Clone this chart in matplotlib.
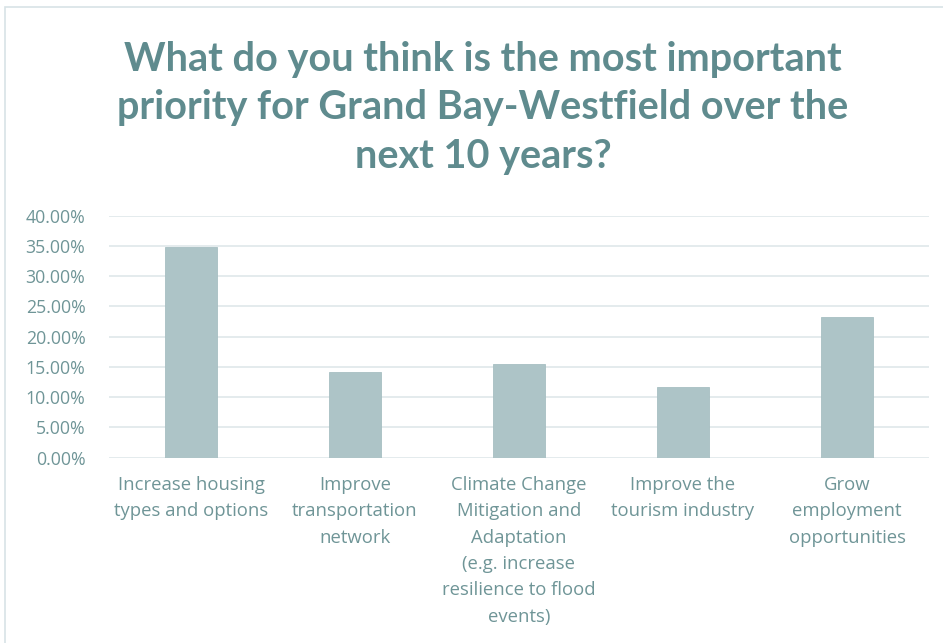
import matplotlib
matplotlib.use("Agg")
import matplotlib.pyplot as plt
from matplotlib.ticker import FuncFormatter
from matplotlib.patches import Rectangle

categories = [
    "Increase housing\ntypes and options",
    "Improve\ntransportation\nnetwork",
    "Climate Change\nMitigation and\nAdaptation\n(e.g. increase\nresilience to flood\nevents)",
    "Improve the\ntourism industry",
    "Grow\nemployment\nopportunities",
]
values = [0.348, 0.142, 0.155, 0.117, 0.232]
yticks = [0.0, 0.05, 0.10, 0.15, 0.20, 0.25, 0.30, 0.35, 0.40]
title = "What do you think is the most important\npriority for Grand Bay-Westfield over the\nnext 10 years?"

bar_color = "#adc4c7"
text_color = "#6f9597"
title_color = "#5f8b8e"
grid_color = "#dfe8ea"

fig = plt.figure(figsize=(9.43, 6.43), dpi=100)
fig.patch.set_facecolor("white")

# outer chart border
fig.add_artist(Rectangle((5/943, -0.1), 1.2, (643-7)/643 + 0.1, transform=fig.transFigure,
                         fill=False, edgecolor="#d8e3e6", linewidth=1.2))

ax = fig.add_axes([109/943, (643-457.7)/643, (929-109)/943, (457.7-215.7)/643])
x = list(range(len(categories)))
ax.bar(x, values, width=0.317, color=bar_color, edgecolor="#a7bfc2", linewidth=0.6, zorder=3)
ax.set_xlim(-0.5, len(categories) - 0.5)
ax.set_ylim(0, 0.40)
ax.set_yticks(yticks)
ax.yaxis.set_major_formatter(FuncFormatter(lambda v, p: f"{v*100:.2f}%"))
ax.grid(axis="y", color=grid_color, linewidth=1.2, zorder=0)
for s in ax.spines.values():
    s.set_visible(False)
ax.tick_params(axis="both", length=0, colors=text_color)
ax.tick_params(axis="y", labelsize=12.8, pad=17)
ax.set_xticks(x)
ax.set_xticklabels(categories, fontsize=13.3, color=text_color)
ax.tick_params(axis="x", pad=13)
for lbl in ax.get_yticklabels():
    lbl.set_family("Open Sans")
    lbl.set_color(text_color)
for lbl in ax.get_xticklabels():
    lbl.set_family("Open Sans")
    lbl.set_color(text_color)
    lbl.set_linespacing(1.6)

fig.text(483/943, 1 - 108/643, title, ha="center", va="center", fontsize=28.5,
         fontweight="bold", family="Lato", color=title_color, linespacing=1.38)

fig.savefig("out.png", dpi=100, facecolor="white")
